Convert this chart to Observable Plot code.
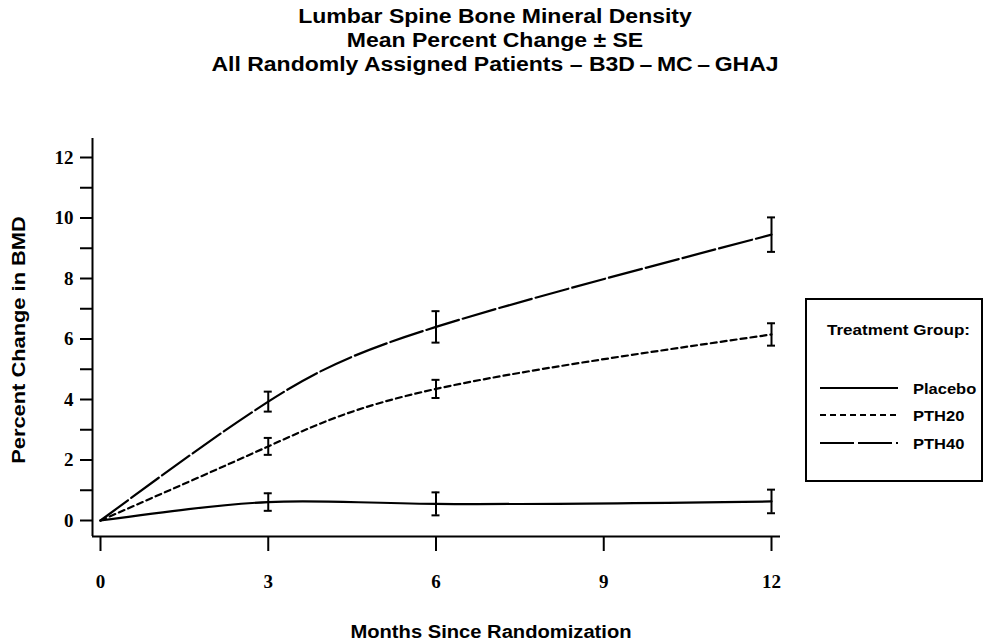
<!DOCTYPE html>
<html>
<head>
<meta charset="utf-8">
<script src="https://cdn.jsdelivr.net/npm/d3@7"></script>
<script src="https://cdn.jsdelivr.net/npm/@observablehq/plot@0.6"></script>
<style>
  html, body { margin: 0; padding: 0; background: #fff; }
  #chart { position: relative; width: 987px; height: 644px; overflow: hidden; background: #fff; }
  #chart > svg { position: absolute; left: 0; top: 0; }
  .lbl { position: absolute; white-space: pre; font-family: "Liberation Sans", Arial, sans-serif; font-weight: bold; color: #000; line-height: 1; }
  .legend { position: absolute; box-sizing: border-box; border: 2px solid #000; background: #fff; }
</style>
</head>
<body>
<div id="chart"></div>
<script>
// Lumbar spine BMD, mean percent change from baseline with standard errors
const months = [0, 3, 6, 12];
const groups = ["Placebo", "PTH20", "PTH40"];
const placeboMean = [0, 0.61, 0.55, 0.63];
const placeboSE   = [0, 0.29, 0.38, 0.39];
const pth20Mean   = [0, 2.45, 4.35, 6.15];
const pth20SE     = [0, 0.28, 0.30, 0.37];
const pth40Mean   = [0, 3.93, 6.40, 9.45];
const pth40SE     = [0, 0.33, 0.52, 0.57];

const yTicks = [0, 2, 4, 6, 8, 10, 12];
const yMinorTicks = [1, 3, 5, 7, 9, 11];
const xTicks = [0, 3, 6, 9, 12];

const titleLines = [
  "Lumbar Spine Bone Mineral Density",
  "Mean Percent Change \u00B1 SE",
  "All Randomly Assigned Patients \u2013 B3D\u2009\u2013\u2009MC\u2009\u2013\u2009GHAJ"
];
const xTitle = "Months Since Randomization";
const yTitle = "Percent Change in BMD";
const legendTitle = "Treatment Group:";

// line style per treatment group
const dashes = {Placebo: undefined, PTH20: "6,4", PTH40: "34,4"};

const means = [placeboMean, pth20Mean, pth40Mean];
const ses = [placeboSE, pth20SE, pth40SE];
const rows = groups.flatMap((g, gi) =>
  months.map((m, i) => ({group: g, month: m, mean: means[gi][i], se: ses[gi][i]}))
);
const bars = rows.filter(d => d.se > 0);

const plot = Plot.plot({
  width: 987,
  height: 644,
  marginLeft: 92,
  marginRight: 207,
  marginTop: 138,
  marginBottom: 108,
  style: {
    fontFamily: "'Liberation Serif', 'Times New Roman', serif",
    fontSize: "19px",
    fontWeight: "bold",
    color: "#000",
    background: "transparent",
    overflow: "visible"
  },
  x: {domain: [0, 12], insetLeft: 8, insetRight: 9},
  y: {domain: [0, 12], insetTop: 19, insetBottom: 16},
  marks: [
    // axis lines, offset from the data area
    Plot.ruleX([0], {dx: -8, strokeWidth: 2}),
    Plot.ruleY([0], {dy: 16, strokeWidth: 2}),
    Plot.axisY({ticks: yTicks, tickSize: 12, tickPadding: 7, strokeWidth: 2, label: null}),
    Plot.axisY({ticks: yMinorTicks, tickSize: 12, tickFormat: () => "", strokeWidth: 2, label: null}),
    Plot.axisX({ticks: xTicks, tickSize: 15, tickPadding: 23, strokeWidth: 2, label: null}),
    // group means, joined by a natural spline
    ...groups.map(g => Plot.line(rows.filter(d => d.group === g), {
      x: "month", y: "mean", curve: "natural",
      stroke: "#000", strokeWidth: 2.2, strokeDasharray: dashes[g]
    })),
    // ± SE bars with caps
    Plot.ruleX(bars, {x: "month", y1: d => d.mean - d.se, y2: d => d.mean + d.se, stroke: "#000", strokeWidth: 2}),
    Plot.ruleY(bars, {x1: "month", x2: "month", y: d => d.mean - d.se, insetLeft: -4, insetRight: -4, stroke: "#000", strokeWidth: 2}),
    Plot.ruleY(bars, {x1: "month", x2: "month", y: d => d.mean + d.se, insetLeft: -4, insetRight: -4, stroke: "#000", strokeWidth: 2})
  ]
});

const chart = document.getElementById("chart");
chart.appendChild(plot);

function label(text, x, y, size, transform) {
  const el = document.createElement("div");
  el.className = "lbl";
  el.textContent = text;
  el.style.left = x + "px";
  el.style.top = y + "px";
  el.style.fontSize = size + "px";
  el.style.transform = transform;
  chart.appendChild(el);
  return el;
}

// titles
const titleY = [16, 40, 64];
titleLines.forEach((t, i) => label(t, 495, titleY[i], 20, "translate(-50%, -50%) scaleX(1.15)"));
label(xTitle, 491, 632, 18, "translate(-50%, -50%) scaleX(1.12)");
label(yTitle, 18, 340, 19, "translate(-50%, -50%) rotate(-90deg) scaleX(1.15)");

// legend
const box = document.createElement("div");
box.className = "legend";
Object.assign(box.style, {left: "805px", top: "298px", width: "178px", height: "184px"});
chart.appendChild(box);

const head = label(legendTitle, 827, 330, 15.5, "translateY(-50%) scaleX(1.1)");
head.style.transformOrigin = "left center";

const itemY = [388, 415, 443];
const legendSvg = d3.select(chart).append("svg")
  .attr("width", 987).attr("height", 644)
  .style("position", "absolute").style("left", 0).style("top", 0)
  .style("pointer-events", "none");
groups.forEach((g, i) => {
  legendSvg.append("line")
    .attr("x1", 820).attr("x2", 898)
    .attr("y1", itemY[i]).attr("y2", itemY[i])
    .attr("stroke", "#000").attr("stroke-width", 2)
    .attr("stroke-dasharray", dashes[g] ?? null);
  const t = label(g, 913, itemY[i], 15, "translateY(-50%) scaleX(1.1)");
  t.style.transformOrigin = "left center";
});
</script>
</body>
</html>
